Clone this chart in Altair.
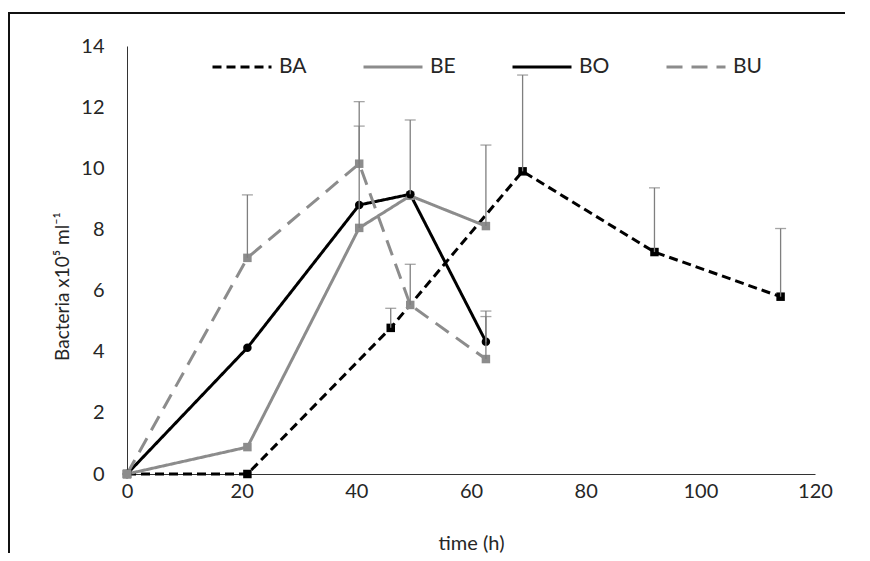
import altair as alt
import pandas as pd

series_names = ["BA", "BE", "BO", "BU"]

ba_time = [0, 21, 46, 69, 92, 114]
ba_value = [0, 0, 4.78, 9.9, 7.26, 5.8]
ba_upper = [None, None, 5.42, 13.05, 9.36, 8.03]

be_time = [0, 21, 40.5, 49.4, 62.6]
be_value = [0, 0.88, 8.05, 9.1, 8.11]
be_upper = [None, None, 11.38, None, 10.76]

bo_time = [0, 21, 40.5, 49.4, 62.6]
bo_value = [0, 4.13, 8.8, 9.15, 4.33]
bo_upper = [None, None, None, 11.58, 5.33]

bu_time = [0, 21, 40.5, 49.4, 62.6]
bu_value = [0, 7.07, 10.15, 5.53, 3.76]
bu_upper = [None, 9.13, 12.18, 6.86, 5.15]

x_ticks = [0, 20, 40, 60, 80, 100, 120]
y_ticks = [0, 2, 4, 6, 8, 10, 12, 14]

BLACK = "#000000"
GREY = "#8c8c8c"
FONT = "Lato"
TEXT = "#262626"
series_colors = {"BA": BLACK, "BE": GREY, "BO": BLACK, "BU": GREY}
series_shapes = {"BA": "square", "BE": "square", "BO": "circle", "BU": "square"}

rows = []
for name, ts, vs, us in [("BA", ba_time, ba_value, ba_upper),
                         ("BE", be_time, be_value, be_upper),
                         ("BO", bo_time, bo_value, bo_upper),
                         ("BU", bu_time, bu_value, bu_upper)]:
    for t, v, u in zip(ts, vs, us):
        rows.append({"series": name, "time": t, "value": v, "upper": u})
df = pd.DataFrame(rows)
df["order"] = df["series"].map({n: i for i, n in enumerate(series_names)})
df["pcolor"] = df["series"].map(series_colors)
df["pshape"] = df["series"].map(series_shapes)
err = df.dropna(subset=["upper"])

xs = alt.Scale(domain=[0, 120], nice=False)
ys = alt.Scale(domain=[0, 14], nice=False)
color_scale = alt.Scale(domain=series_names, range=[series_colors[n] for n in series_names])
dash_scale = alt.Scale(domain=series_names, range=[[9, 5], [1, 0], [1, 0], [16, 9]])

x_enc = alt.X("time:Q", scale=xs,
              axis=alt.Axis(values=x_ticks, title="time (h)", titleX=344, titleY=69,
                            titleBaseline="middle", titleFontSize=20,
                            labelPadding=7, labelFlush=False))
y_enc = alt.Y("value:Q", scale=ys,
              axis=alt.Axis(values=y_ticks, title="Bacteria x10⁵ ml⁻¹", titleAngle=270,
                            titleX=-65, titleY=240, titleAlign="center", titleFontSize=19,
                            titleBaseline="middle", labelPadding=23, labelFlush=False))

lines = alt.Chart(df).mark_line(strokeWidth=3).encode(
    x=x_enc, y=y_enc,
    color=alt.Color("series:N", scale=color_scale,
                    legend=alt.Legend(title=None, orient="none", legendX=84, legendY=-10,
                                      direction="horizontal", columns=4,
                                      symbolType="stroke", symbolSize=3481,
                                      symbolStrokeWidth=3, labelFontSize=21,
                                      labelFont=FONT, labelColor=TEXT,
                                      columnPadding=50, labelOffset=6)),
    strokeDash=alt.StrokeDash("series:N", scale=dash_scale),
    detail="series:N",
    order="order:Q",
)

points = alt.Chart(df).mark_point(filled=True, size=72, opacity=1).encode(
    x="time:Q", y="value:Q",
    color=alt.Color("pcolor:N", scale=None),
    shape=alt.Shape("pshape:N", scale=None),
)

err_rules = alt.Chart(err).mark_rule(color="#7f7f7f", strokeWidth=1.3).encode(
    x="time:Q", y="value:Q", y2="upper:Q",
)
err_caps = alt.Chart(err).mark_tick(color="#7f7f7f", orient="horizontal", size=11,
                                    thickness=1.3).encode(
    x="time:Q", y="upper:Q",
)

frame_left = alt.Chart(df).mark_rule(color="#111111", strokeWidth=2).encode(
    x=alt.value(-118), y=alt.value(-33), y2=alt.value(560))
frame_top = alt.Chart(df).mark_rule(color="#111111", strokeWidth=2).encode(
    x=alt.value(-119), x2=alt.value(800), y=alt.value(-33))

chart = alt.layer(lines, points, err_rules, err_caps, frame_left, frame_top).properties(
    width=688, height=428,
    autosize=alt.AutoSizeParams(type="none"),
    padding={"left": 119, "top": 38, "right": 30, "bottom": 79},
).configure_view(stroke=None).configure_axis(
    grid=False, ticks=False, tickSize=0, domainColor="#333333", domainWidth=1,
    labelFont=FONT, labelFontSize=20, labelColor=TEXT,
    titleFont=FONT, titleColor=TEXT, titleFontWeight="normal",
)

chart.save("out.html", embed_options={"renderer": "svg", "actions": False})
